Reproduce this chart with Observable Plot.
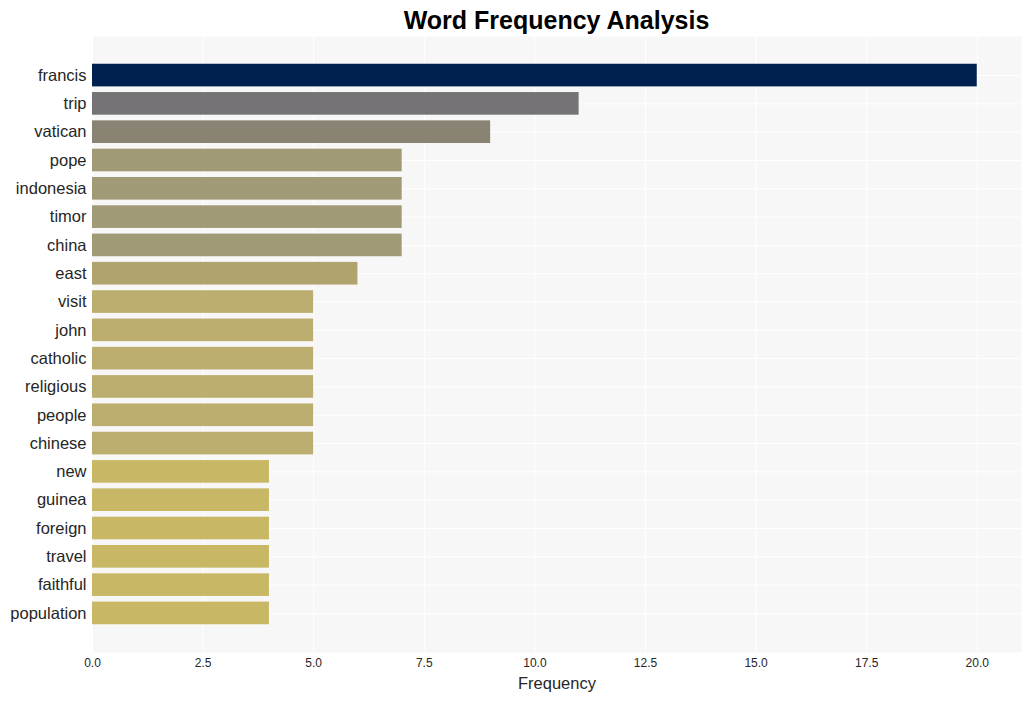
<!DOCTYPE html>
<html><head><meta charset="utf-8">
<script src="https://cdn.jsdelivr.net/npm/d3@7"></script>
<script src="https://cdn.jsdelivr.net/npm/@observablehq/plot@0.6"></script>
<style>
body{margin:0;background:#fff;font-family:"Liberation Sans",Arial,sans-serif;}
#title{height:36px;line-height:40px;font-size:25px;font-weight:bold;color:#000;text-align:center;padding-left:82px;width:1031px;box-sizing:border-box;}
</style></head>
<body>
<div id="title">Word Frequency Analysis</div>
<div id="chart"></div>
<script>
const words = ["francis","trip","vatican","pope","indonesia","timor","china","east","visit","john","catholic","religious","people","chinese","new","guinea","foreign","travel","faithful","population"];
const counts = [20,11,9,7,7,7,7,6,5,5,5,5,5,5,4,4,4,4,4,4];
const colorValues = [4,5,6,7,9,11,20];
const colorRange = ["#c8b866","#bcae6f","#b0a36e","#a09a76","#888372","#757375","#00214f"];
const xTicks = [0,2.5,5,7.5,10,12.5,15,17.5,20];

const data = words.map((w,i)=>({word:w,count:counts[i]}));

const chart = Plot.plot({
  width:1031, height:665,
  marginTop:0, marginBottom:49, marginLeft:92, marginRight:10,
  style:{fontFamily:"'Liberation Sans',Arial,sans-serif", background:"#fff"},
  x:{domain:[0,21], ticks:xTicks, tickFormat:d3.format(".1f"), label:"Frequency", labelAnchor:"center", labelArrow:"none", tickSize:0, labelOffset:36},
  y:{domain:words, paddingInner:0.2, paddingOuter:0.98, round:false, label:null, tickSize:0, tickPadding:6},
  color:{type:"linear", domain:colorValues, range:colorRange, interpolate:"rgb"},
  marks:[
    Plot.frame({fill:"#f7f7f7", stroke:null}),
    Plot.gridX(xTicks,{stroke:"#fff", strokeOpacity:1, strokeWidth:1}),
    Plot.gridY(words,{stroke:"#fff", strokeOpacity:1, strokeWidth:1}),
    Plot.barX(data,{x:"count", y:"word", fill:d=>d.count}),
    Plot.axisY({tickSize:0, tickPadding:6, fontSize:16.5, fill:"#262626"}),
    Plot.axisX({ticks:xTicks, tickFormat:d3.format(".1f"), tickSize:0, tickPadding:6, fontSize:12, fill:"#262626", label:"Frequency", labelAnchor:"center", labelArrow:"none", labelOffset:36})
  ]
});
chart.querySelectorAll('[aria-label="x-axis label"] text').forEach(t=>{t.style.fontSize="16.5px";t.setAttribute("fill","#262626");});
document.getElementById("chart").appendChild(chart);
</script>
</body></html>
